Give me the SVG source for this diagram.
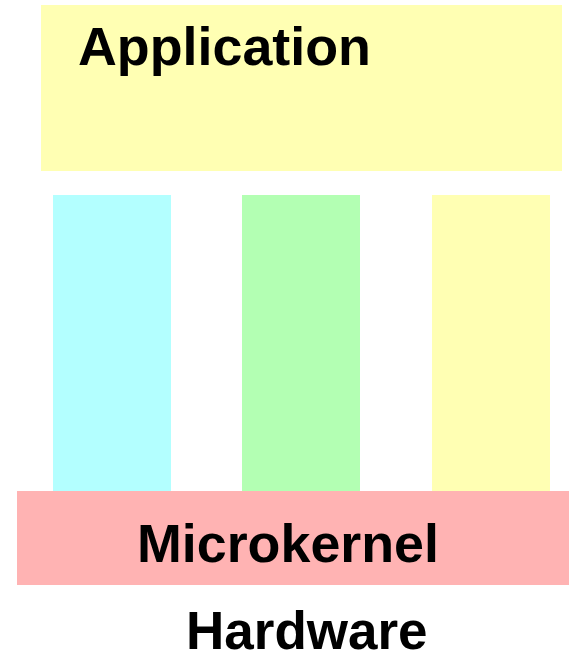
<svg xmlns="http://www.w3.org/2000/svg" width="569" height="663" viewBox="0 0 569 663">
<style>
text{font-family:"Liberation Sans",Arial,sans-serif;font-weight:bold;font-size:53px;fill:#000}
.big{font-size:53.8px}
</style>
<rect width="569" height="663" fill="#fff"/>
<g id="application"><rect x="41" y="5" width="521" height="166" fill="#ffffb3"/><text class="big" x="78" y="65">Application</text></g>
<g id="col1"><rect x="53" y="195" width="118" height="296" fill="#b3ffff"/></g>
<g id="col2"><rect x="242" y="195" width="118" height="296" fill="#b3ffb3"/></g>
<g id="col3"><rect x="432" y="195" width="118" height="296" fill="#ffffb3"/></g>
<g id="microkernel"><rect x="17" y="491" width="552" height="94" fill="#ffb3b3"/><text class="big" x="137" y="562">Microkernel</text></g>
<g id="hardware"><text x="186" y="649">Hardware</text></g>
<g id="connectors"/>
</svg>
